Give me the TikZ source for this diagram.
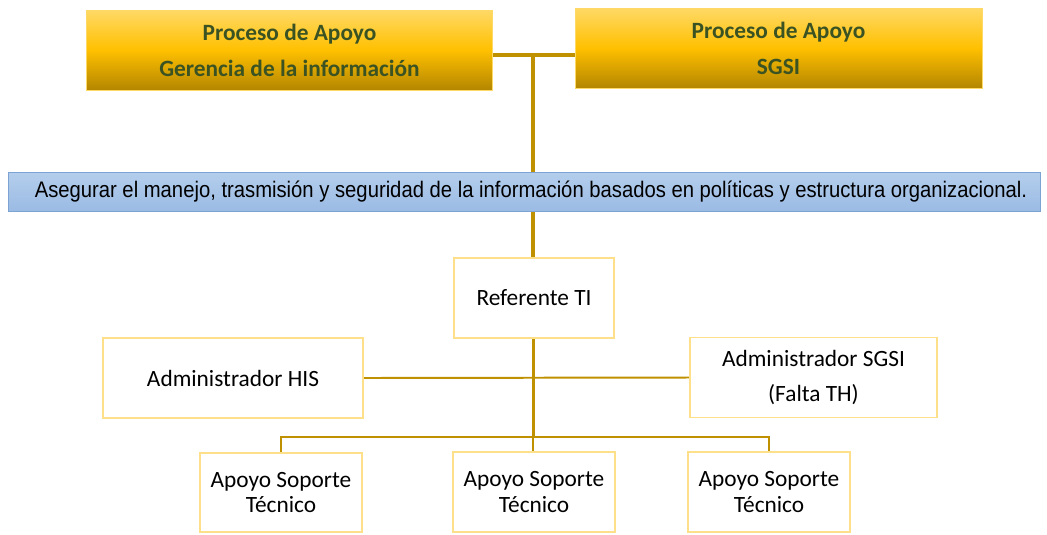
\documentclass[tikz,border=0pt]{standalone}
\usepackage{fontspec}
\usepackage{graphicx}
\setmainfont{Carlito}
\newfontfamily\arialfont{Liberation Sans}
\usetikzlibrary{backgrounds}
\definecolor{goldtop}{HTML}{FFD966}
\definecolor{goldmid}{HTML}{FFC000}
\definecolor{goldbot}{HTML}{B38600}
\definecolor{goldline}{HTML}{BF9000}
\definecolor{boxline}{HTML}{FFE08A}
\definecolor{procgreen}{HTML}{3B5323}
\definecolor{bluetop}{HTML}{B4CEEC}
\definecolor{bluebot}{HTML}{9BBBE4}
\definecolor{blueline}{HTML}{7DA3D4}
\tikzset{
    proceso/.style={draw=goldtop, line width=0.6pt, top color=goldtop, bottom color=goldbot, middle color=goldmid,
        minimum width=10.15cm, minimum height=2cm, align=center, text=procgreen,
        font=\fontsize{16.6}{25.6}\selectfont\bfseries},
    objetivo/.style={draw=blueline, line width=0.6pt, top color=bluetop, bottom color=bluebot,
        minimum width=25.8cm, minimum height=0.975cm, inner sep=0pt, font=\arialfont\fontsize{16}{18}\selectfont},
    cargo/.style={draw=boxline, line width=1.2pt, fill=white, minimum height=2cm, align=center,
        font=\fontsize{16.6}{18}\selectfont},
    tronco/.style={goldline, line width=2.8pt},
    rama/.style={goldline, line width=1.4pt}
}
\begin{document}
\begin{tikzpicture}
    \useasboundingbox (0,0) rectangle (26.175,-13.35);
    % procesos de apoyo
    \node[proceso] (gerencia) at (7.2375,-1.25) {Proceso de Apoyo\\Gerencia de la información};
    \node[proceso, minimum width=10.175cm] (sgsi) at (19.4625,-1.2) {Proceso de Apoyo\\SGSI};
    \coordinate (union) at (13.33,-1.375);
    % objetivo
    \node[objetivo] (objetivo) at (13.1,-4.7875)
        {\hspace*{0.35cm}\scalebox{0.9}[1]{Asegurar el manejo, trasmisión y seguridad de la información basados en políticas y estructura organizacional.}};
    % cargos
    \node[cargo, minimum width=4cm] (referente) at (13.35,-7.45) {Referente TI};
    \node[cargo, minimum width=6.5cm] (his) at (5.825,-9.45) {Administrador HIS};
    \node[cargo, minimum width=6.175cm, font=\fontsize{16.6}{25.6}\selectfont] (admsgsi) at (20.3375,-9.4375)
        {Administrador SGSI\\(Falta TH)};
    \node[cargo, minimum width=4.05cm, minimum height=1.975cm] (apoyoa) at (7.025,-12.3125) {Apoyo Soporte\\Técnico};
    \node[cargo, minimum width=4.05cm] (apoyob) at (13.35,-12.3) {Apoyo Soporte\\Técnico};
    \node[cargo, minimum width=4.05cm] (apoyoc) at (19.225,-12.3) {Apoyo Soporte\\Técnico};
    \coordinate (bus) at (13.33,-10.925);
    % conectores
    \begin{scope}[on background layer]
        \draw[tronco] (gerencia.east |- union) -- (sgsi.west |- union);
        \draw[tronco] (union) -- (union |- referente.north);
        \draw[tronco, line width=2.1pt] (union |- referente.south) -- (bus);
        \draw[rama] (his.east) -- (admsgsi.west);
        \draw[rama] (bus) -| (apoyoa.north);
        \draw[rama] (bus) -| (apoyoc.north);
        \draw[rama] (bus) -- (bus |- apoyob.north);
    \end{scope}
\end{tikzpicture}
\end{document}
